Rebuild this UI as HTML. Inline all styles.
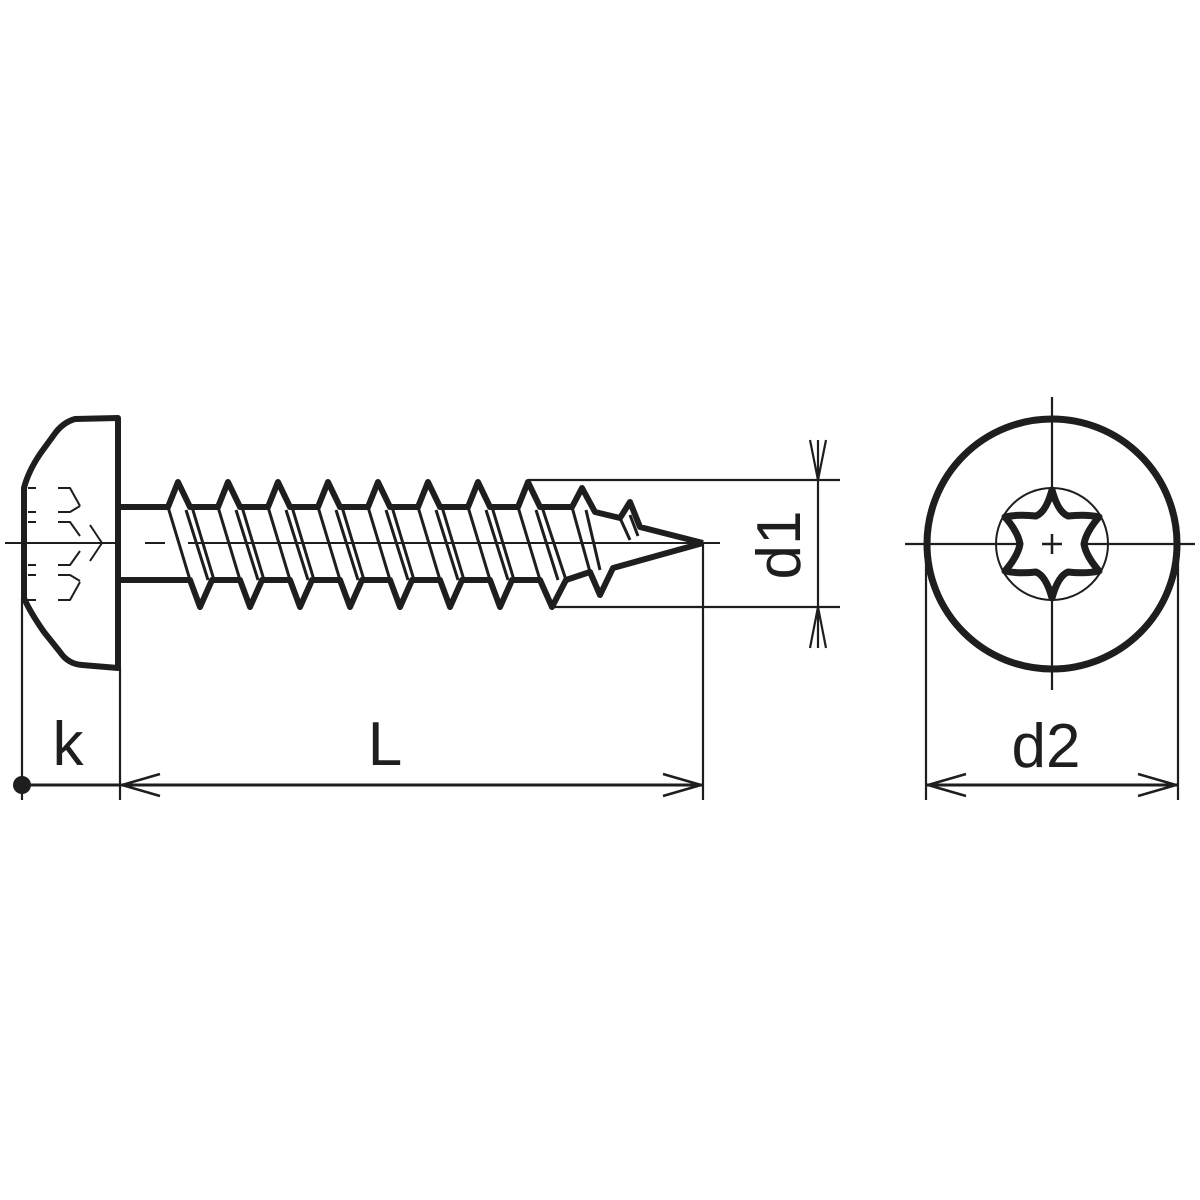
<!DOCTYPE html>
<html><head><meta charset="utf-8"><style>html,body{margin:0;padding:0;background:#fff}svg{display:block}</style></head>
<body>
<svg width="1200" height="1200" viewBox="0 0 1200 1200" xmlns="http://www.w3.org/2000/svg">
<g fill="none" stroke="#1e1e1e" stroke-linejoin="round">
<!-- head -->
<path d="M118,418 L75,419 Q64,422 56,432 L40,454 Q28,472 24,488 L24,598 Q30,612 44,632 L60,652 Q68,664 82,665 L118,668 Z" stroke-width="6"/>
<g stroke-width="2">
<path d="M28,488h8 M28,512h8 M28,522h8 M28,565h8 M28,575h8 M28,600h8"/>
<path d="M58,488h12l10,18 M58,512h12l10,-6 M58,522h12l10,14 M58,565h12l10,-14 M58,575h12l10,6 M58,600h12l10,-18 M90,525l12,18l-12,18"/>
</g>
<path d="M120,507 L168,507 L178,482 L190,507 L218,507 L228,482 L240,507 L268,507 L278,482 L290,507 L318,507 L328,482 L340,507 L368,507 L378,482 L390,507 L418,507 L428,482 L440,507 L468,507 L478,482 L490,507 L518,507 L528,482 L540,507 L572,507 L582,488 L595,512 L620,518 L630,502 L640,527 L703,543" stroke-width="6"/>
<path d="M120,580 L190,580 L200,607 L212,580 L240,580 L250,607 L262,580 L290,580 L300,607 L312,580 L340,580 L350,607 L362,580 L390,580 L400,607 L412,580 L440,580 L450,607 L462,580 L490,580 L500,607 L512,580 L540,580 L552,607 L566,580 L590,572 L600,595 L613,568 L703,543" stroke-width="6"/>
<g stroke-width="3">
<path d="M168,507 L190,580 M186,510 L208,580 M192,507 L214,580"/>
<path d="M218,507 L240,580 M236,510 L258,580 M242,507 L264,580"/>
<path d="M268,507 L290,580 M286,510 L308,580 M292,507 L314,580"/>
<path d="M318,507 L340,580 M336,510 L358,580 M342,507 L364,580"/>
<path d="M368,507 L390,580 M386,510 L408,580 M392,507 L414,580"/>
<path d="M418,507 L440,580 M436,510 L458,580 M442,507 L464,580"/>
<path d="M468,507 L490,580 M486,510 L508,580 M492,507 L514,580"/>
<path d="M518,507 L540,580 M536,510 L558,580 M542,507 L566,580"/>
<path d="M572,507 L590,572 M586,510 L600,570 M620,518 L630,540 M630,515 L638,536"/>
</g>
<path d="M5,543 H120 M145,543 H165 M188,543 H720" stroke-width="2"/>
<g stroke-width="2.2">
<path d="M22,598 V800 M120,668 V800 M703,543 V800"/>
<path d="M528,480 H840 M555,607 H840"/>
<path d="M818,440 V648 M810,440 L818,480 L826,440 M810,648 L818,607 L826,648"/>
<path d="M926,544 V800 M1178,544 V800"/>
<path d="M905,544 H1195 M1052,397 V690"/>
</g>
<path d="M22,785 H703" stroke-width="3"/>
<path d="M160,774 L122,785 L160,796 M663,774 L701,785 L663,796" stroke-width="2.5"/>
<path d="M926,785 H1178" stroke-width="3"/>
<path d="M966,774 L928,785 L966,796 M1138,774 L1176,785 L1138,796" stroke-width="2.5"/>
<circle cx="1052" cy="544" r="125" stroke-width="7"/>
<circle cx="1052" cy="544" r="56" stroke-width="2"/>
<path d="M1052,490 Q1058,512 1068,516 Q1086,514 1099,517 Q1086,532 1084,544 Q1086,556 1099,571 Q1086,574 1068,572 Q1058,576 1052,598 Q1046,576 1036,572 Q1018,574 1005,571 Q1018,556 1020,544 Q1018,532 1005,517 Q1018,514 1036,516 Q1046,512 1052,490 Z" stroke-width="7" fill="#fff"/>
<path d="M1052,534 V554 M1042,544 H1062" stroke-width="2.5"/>
</g>
<circle cx="22" cy="785" r="9" fill="#1e1e1e"/>
<g font-family="Liberation Sans, sans-serif" font-size="62" fill="#1e1e1e">
<text x="68" y="765" text-anchor="middle">k</text>
<text x="385" y="765" text-anchor="middle">L</text>
<text x="1046" y="767" text-anchor="middle">d2</text>
<text transform="translate(800,545) rotate(-90)" text-anchor="middle">d1</text>
</g>
</svg>
</body></html>
